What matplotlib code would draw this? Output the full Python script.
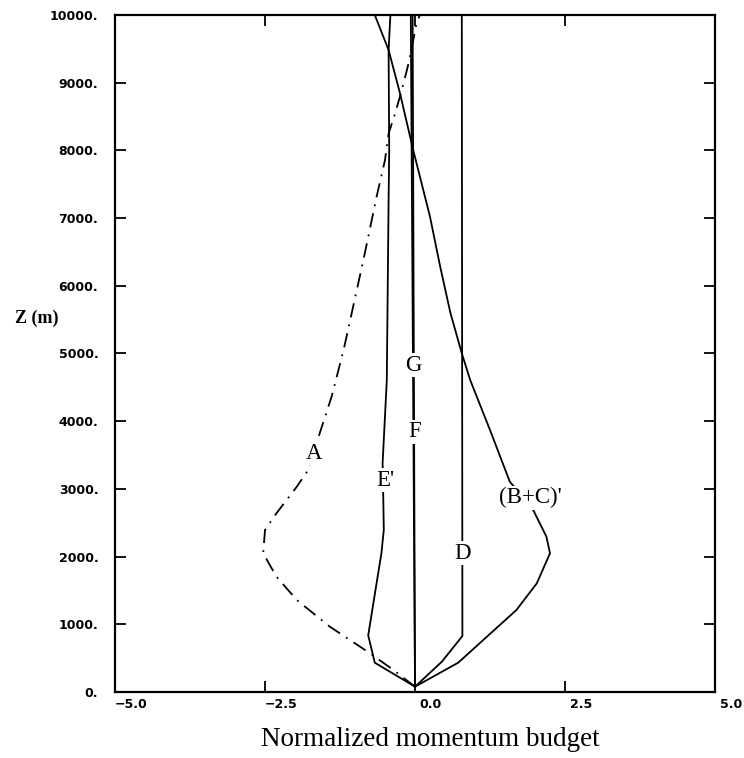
import numpy as np
import matplotlib
matplotlib.use("Agg")
import matplotlib.pyplot as plt
import matplotlib.transforms as mtransforms

# Data (heights in m, normalized budget terms)
z_A = [78, 325, 572, 965, 1359, 1704, 2049, 2393, 2639, 3033, 3279, 3845, 4362,
       5052, 6381, 7316, 7858, 8250, 8548, 8892, 9310, 9852, 10000]
x_A = [0, -0.36, -0.75, -1.42, -1.97, -2.31, -2.53, -2.50, -2.31, -1.97, -1.78,
       -1.58, -1.39, -1.19, -0.86, -0.64, -0.50, -0.44, -0.33, -0.22, -0.10, 0.02, 0.08]

z_E = [78, 433, 837, 2049, 2393, 2930, 3378, 4608, 7267, 8006, 9483, 10000]
x_E = [0, -0.67, -0.78, -0.56, -0.52, -0.53, -0.54, -0.47, -0.44, -0.43, -0.44, -0.41]

z_FG = [78, 10000]
x_F = [0, -0.04]
x_G = [0, -0.07]

z_D = [78, 450, 827, 10000]
x_D = [0, 0.45, 0.79, 0.78]

z_BC = [78, 433, 1211, 1605, 2049, 2295, 2688, 3107, 3870, 4608, 5003, 5600,
        6282, 7021, 8006, 8843, 9483, 10000]
x_BC = [0, 0.72, 1.69, 2.03, 2.25, 2.19, 1.97, 1.58, 1.25, 0.92, 0.78, 0.59,
        0.42, 0.25, -0.03, -0.25, -0.44, -0.67]

# curve labels: (text, x, z)
labels = [("A", -1.69, 3525), ("E'", -0.50, 3131), ("F", 0.0, 3845),
          ("G", -0.03, 4830), ("D", 0.80, 2049), ("(B+C)'", 1.92, 2870)]

xticks = [-5.0, -2.5, 0.0, 2.5, 5.0]
yticks = np.arange(0, 10001, 1000)

fig = plt.figure(figsize=(7.44, 7.58), dpi=100)
ax = fig.add_axes([115 / 744, 1 - 692 / 758, 600 / 744, 677 / 758])

lw = 1.3
ax.plot(x_A, z_A, color="black", lw=lw, linestyle=(0, (8, 4, 1, 4)))
ax.plot(x_E, z_E, color="black", lw=lw)
ax.plot(x_F, z_FG, color="black", lw=lw)
ax.plot(x_G, z_FG, color="black", lw=lw)
ax.plot(x_D, z_D, color="black", lw=lw)
ax.plot(x_BC, z_BC, color="black", lw=lw)

for txt, lx, lz in labels:
    ax.text(lx, lz, txt, ha="center", va="center", fontsize=16.5,
            family="Liberation Serif", zorder=5,
            bbox=dict(facecolor="white", edgecolor="none", pad=1.0))

ax.set_xlim(-5, 5)
ax.set_ylim(0, 10000)
ax.set_xticks(xticks)
ax.set_xticklabels([f"{v:.1f}".replace("-", "\u2212") for v in xticks])
ax.set_yticks(yticks)
ax.set_yticklabels([f"{int(v)}." for v in yticks])

ax.tick_params(direction="in", length=8, width=1.3, top=True, right=True,
               labelsize=9)
ax.tick_params(axis="y", pad=12)
ax.tick_params(axis="x", pad=4)
for lab in ax.get_xticklabels() + ax.get_yticklabels():
    lab.set_fontweight("bold")
    lab.set_family("DejaVu Sans")
offset = mtransforms.ScaledTranslation(16 / 100, 0, fig.dpi_scale_trans)
for lab in ax.get_xticklabels():
    lab.set_transform(lab.get_transform() + offset)

for sp in ax.spines.values():
    sp.set_linewidth(1.6)

fig.text(37 / 744, 1 - 318 / 758, "Z (m)", ha="center", va="center",
         fontsize=13, fontweight="bold", family="Liberation Serif")
fig.text(430 / 744, 1 - 740 / 758, "Normalized momentum budget",
         ha="center", va="center", fontsize=19.5, family="Liberation Serif")

fig.savefig("out.png", dpi=100)
